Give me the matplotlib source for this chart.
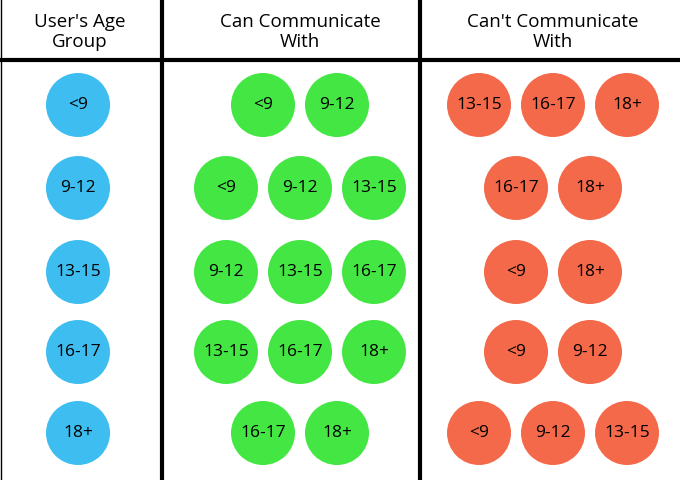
import matplotlib.pyplot as plt
from matplotlib.patches import Circle

plt.rcParams['font.family'] = ['Open Sans', 'DejaVu Sans']

# 数据：每个年龄组能/不能交流的对象
age_groups = ['<9', '9-12', '13-15', '16-17', '18+']
can_with = [['<9', '9-12'],
            ['<9', '9-12', '13-15'],
            ['9-12', '13-15', '16-17'],
            ['13-15', '16-17', '18+'],
            ['16-17', '18+']]
cant_with = [['13-15', '16-17', '18+'],
             ['16-17', '18+'],
             ['<9', '18+'],
             ['<9', '9-12'],
             ['<9', '9-12', '13-15']]
headers = ["User's Age\nGroup", "Can Communicate\nWith", "Can't Communicate\nWith"]

blue, green, orange = '#3DBDF0', '#44E644', '#F4694A'

fig = plt.figure(figsize=(6.8, 4.8), dpi=100)
ax = fig.add_axes([0, 0, 1, 1])
ax.set_xlim(0, 680)
ax.set_ylim(480, 0)
ax.axis('off')

# 表格线
ax.plot([162, 162], [0, 480], color='black', lw=3)
ax.plot([420, 420], [0, 480], color='black', lw=3)
ax.plot([0, 680], [60, 60], color='black', lw=3)
ax.plot([0.5, 0.5], [0, 480], color='black', lw=1)

col_x = [80, 300, 553]
for cx, h in zip(col_x, headers):
    ax.text(cx, 32, h, ha='center', va='center', fontsize=13.5, linespacing=1.1)

row_y = [105, 188, 272, 352, 433]
step = 74
r = 32


def draw_row(items, cx, cy, color):
    n = len(items)
    for i, lab in enumerate(items):
        x = cx + (i - (n - 1) / 2) * step
        ax.add_patch(Circle((x, cy), r, color=color, ec='none'))
        ax.text(x, cy, lab, ha='center', va='center', fontsize=12.5)


for i, y in enumerate(row_y):
    draw_row([age_groups[i]], col_x[0] - 2, y, blue)
    draw_row(can_with[i], col_x[1], y, green)
    draw_row(cant_with[i], col_x[2], y, orange)

fig.savefig('out.png', dpi=100)
